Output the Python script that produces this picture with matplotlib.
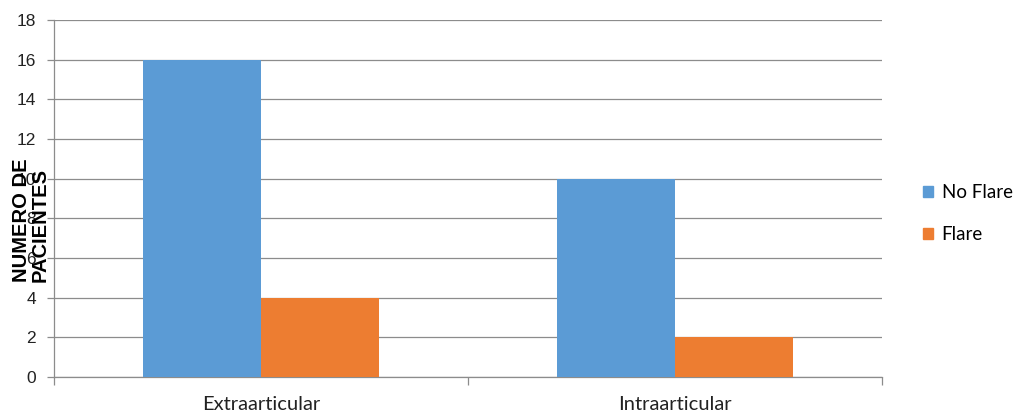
import numpy as np
import matplotlib
matplotlib.use("Agg")
import matplotlib.pyplot as plt
from matplotlib.patches import Patch

categories = ["Extraarticular", "Intraarticular"]
no_flare = [16, 10]
flare = [4, 2]
series_names = ["No Flare", "Flare"]
yticks = [0, 2, 4, 6, 8, 10, 12, 14, 16, 18]

BLUE = "#5B9BD5"
ORANGE = "#ED7D31"
GRID = "#8C8C8C"

fig = plt.figure(figsize=(10.13, 4.13), dpi=100)
ax = fig.add_axes([0.0533, 0.0872, 0.8174, 0.8644])

x = np.arange(len(categories)) + 0.5
w = 0.285
ax.bar(x - w / 2, no_flare, width=w, color=BLUE, zorder=3)
ax.bar(x + w / 2, flare, width=w, color=ORANGE, zorder=3)

ax.set_xlim(0, 2)
ax.set_ylim(0, 18)
ax.set_yticks(yticks)
ax.set_yticklabels([str(v) for v in yticks], fontfamily="Liberation Sans", fontsize=12.5, color="#222222")
ax.yaxis.grid(True, color=GRID, linewidth=0.9, zorder=0)
ax.set_axisbelow(True)

# category ticks at the borders, labels at the centres
ax.set_xticks([0, 1, 2])
ax.set_xticklabels([])
ax.set_xticks(x, minor=True)
ax.set_xticklabels(categories, minor=True, fontfamily="Lato", fontsize=14.5, color="#222222")
ax.tick_params(axis="x", which="major", length=6, color=GRID, width=0.9)
ax.tick_params(axis="x", which="minor", length=0, pad=14)
ax.tick_params(axis="y", length=5, color=GRID, width=0.9, pad=8)

for s in ["top", "right"]:
    ax.spines[s].set_visible(False)
for s in ["left", "bottom"]:
    ax.spines[s].set_color(GRID)
    ax.spines[s].set_linewidth(0.9)

fig.text(0.0306, 0.467, "NUMERO DE\nPACIENTES", rotation=90, ha="center", va="center",
         multialignment="left", fontfamily="Liberation Sans", fontweight="bold",
         fontsize=14.5, linespacing=0.95)

handles = [Patch(color=BLUE), Patch(color=ORANGE)]
fig.legend(handles, series_names, loc="center left", bbox_to_anchor=(0.911, 0.483),
           frameon=False, handlelength=0.55, handleheight=0.55, handletextpad=0.45,
           labelspacing=1.35, borderpad=0, borderaxespad=0,
           prop={"family": "Lato", "size": 13.5})

fig.savefig("out.png", dpi=100)
